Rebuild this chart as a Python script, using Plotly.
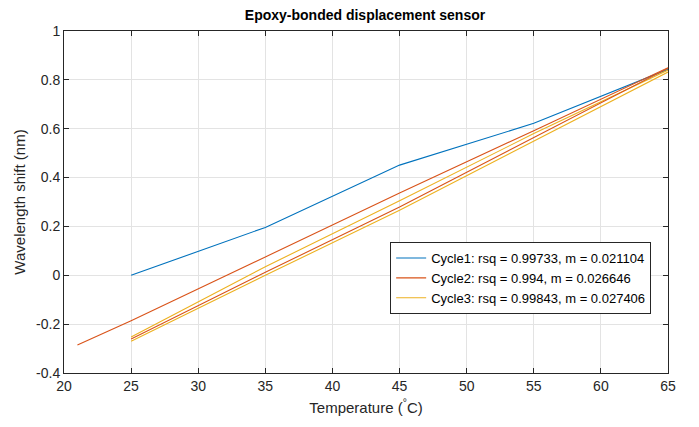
import plotly.graph_objects as go

# Data
temp_c1 = [25, 35, 45, 55, 65]
shift_c1 = [0.0, 0.196, 0.451, 0.622, 0.843]

temp_c2a = [21, 25, 35, 45, 55, 65]
shift_c2a = [-0.285, -0.186, 0.075, 0.337, 0.592, 0.850]

temp_c3a = [25, 35, 45, 55, 65]
shift_c3a = [-0.253, 0.035, 0.305, 0.580, 0.840]

temp_c2b = [25, 35, 45, 55, 65]
shift_c2b = [-0.261, 0.012, 0.280, 0.565, 0.848]

temp_c3b = [25, 35, 45, 55, 65]
shift_c3b = [-0.270, 0.000, 0.266, 0.548, 0.832]

legend_names = [
    "Cycle1: rsq = 0.99733, m = 0.021104",
    "Cycle2: rsq = 0.994, m = 0.026646",
    "Cycle3: rsq = 0.99843, m = 0.027406",
]

x_ticks = [20, 25, 30, 35, 40, 45, 50, 55, 60, 65]
y_ticks = [-0.4, -0.2, 0, 0.2, 0.4, 0.6, 0.8, 1]
y_ticklabels = ["-0.4", "-0.2", "0", "0.2", "0.4", "0.6", "0.8", "1"]

BLUE = "#0072BD"
RED = "#D95319"
ORANGE = "#EDB120"
AX = "#262626"
FONT = "Liberation Sans, Arial, sans-serif"

fig = go.Figure()
fig.add_trace(go.Scatter(x=temp_c1, y=shift_c1, mode="lines", name=legend_names[0],
                         line=dict(color=BLUE, width=1.1)))
fig.add_trace(go.Scatter(x=temp_c2a, y=shift_c2a, mode="lines", name=legend_names[1],
                         line=dict(color=RED, width=1.1)))
fig.add_trace(go.Scatter(x=temp_c3a, y=shift_c3a, mode="lines", name=legend_names[2],
                         line=dict(color=ORANGE, width=1.1)))
fig.add_trace(go.Scatter(x=temp_c2b, y=shift_c2b, mode="lines", showlegend=False,
                         line=dict(color=RED, width=1.1)))
fig.add_trace(go.Scatter(x=temp_c3b, y=shift_c3b, mode="lines", showlegend=False,
                         line=dict(color=ORANGE, width=1.1)))

axis_common = dict(
    showline=True, linecolor=AX, linewidth=1, mirror="ticks",
    ticks="inside", ticklen=5, tickcolor=AX, tickwidth=1,
    showgrid=True, gridcolor="#E3E3E3", gridwidth=1,
    zeroline=False,
    tickfont=dict(family=FONT, size=14, color=AX),
)

fig.update_layout(
    width=699, height=427,
    paper_bgcolor="white", plot_bgcolor="white",
    margin=dict(l=54, r=39, t=23, b=62),
    title=dict(text="<b>Epoxy-bonded displacement sensor</b>", x=(54 + 660) / 2 / 699, xanchor="center",
               y=1 - 2 / 427, yanchor="top", pad=dict(t=0),
               font=dict(family=FONT, size=14, color="black")),
    xaxis=dict(range=[20, 65], tickvals=x_ticks, ticktext=[str(v) for v in x_ticks],
               title=dict(text="Temperature (<sup>°</sup>C)", standoff=9,
                          font=dict(family=FONT, size=15, color=AX)),
               **axis_common),
    yaxis=dict(range=[-0.4, 1], tickvals=y_ticks, ticktext=y_ticklabels,
               title=dict(text="Wavelength shift (nm)", standoff=6,
                          font=dict(family=FONT, size=15, color=AX)),
               **axis_common),
    legend=dict(x=0.54, y=0.383, xanchor="left", yanchor="top",
                bgcolor="white", bordercolor=AX, borderwidth=1,
                font=dict(family=FONT, size=13, color="black"),
                tracegroupgap=0, itemwidth=30),
    showlegend=True,
)

fig.write_html("out.html")
